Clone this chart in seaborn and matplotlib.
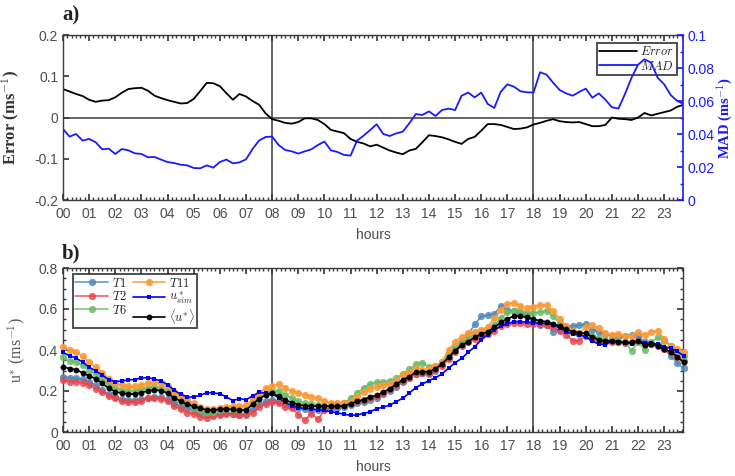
import numpy as np
import pandas as pd
import matplotlib
matplotlib.use("Agg")
import matplotlib.pyplot as plt
import seaborn as sns
from matplotlib.ticker import MultipleLocator

sns.set_theme(style="white")
plt.rcParams["font.family"] = ["Liberation Sans", "DejaVu Sans"]
plt.rcParams["mathtext.fontset"] = "cm"

# ---------------- data (15-min resolution) ----------------
hours = np.arange(96) * 0.25
hour_labels = ["00", "01", "02", "03", "04", "05", "06", "07", "08", "09", "10", "11",
               "12", "13", "14", "15", "16", "17", "18", "19", "20", "21", "22", "23"]

error = [0.069, 0.063, 0.057, 0.052, 0.043, 0.038, 0.041, 0.042,
         0.049, 0.060, 0.069, 0.071, 0.072, 0.065, 0.053, 0.047,
         0.042, 0.038, 0.034, 0.035, 0.045, 0.064, 0.084, 0.083,
         0.076, 0.059, 0.043, 0.057, 0.051, 0.040, 0.031, 0.010,
         -0.004, -0.008, -0.013, -0.015, -0.011, -0.002, -0.002, -0.006,
         -0.016, -0.030, -0.034, -0.038, -0.052, -0.059, -0.063, -0.070,
         -0.066, -0.073, -0.080, -0.085, -0.089, -0.080, -0.076, -0.060,
         -0.043, -0.045, -0.048, -0.053, -0.059, -0.064, -0.052, -0.047,
         -0.032, -0.016, -0.016, -0.018, -0.023, -0.028, -0.027, -0.024,
         -0.017, -0.013, -0.008, -0.004, -0.009, -0.011, -0.012, -0.011,
         -0.016, -0.021, -0.021, -0.018, 0.000, -0.003, -0.004, -0.006,
         0.000, 0.011, 0.005, 0.009, 0.013, 0.017, 0.026, 0.031]

mad = [0.0430, 0.0384, 0.0400, 0.0360, 0.0370, 0.0350, 0.0307, 0.0311,
       0.0279, 0.0309, 0.0301, 0.0283, 0.0279, 0.0259, 0.0261, 0.0245,
       0.0230, 0.0224, 0.0214, 0.0210, 0.0194, 0.0192, 0.0210, 0.0196,
       0.0230, 0.0245, 0.0222, 0.0228, 0.0246, 0.0309, 0.0360, 0.0382,
       0.0384, 0.0333, 0.0303, 0.0295, 0.0281, 0.0295, 0.0307, 0.0333,
       0.0354, 0.0301, 0.0291, 0.0273, 0.0269, 0.0360, 0.0390, 0.0424,
       0.0459, 0.0400, 0.0388, 0.0404, 0.0414, 0.0465, 0.0521, 0.0515,
       0.0537, 0.0509, 0.0545, 0.0554, 0.0545, 0.0632, 0.0651, 0.0622,
       0.0651, 0.0582, 0.0558, 0.0657, 0.0701, 0.0687, 0.0659, 0.0653,
       0.0651, 0.0774, 0.0760, 0.0711, 0.0667, 0.0646, 0.0632, 0.0655,
       0.0675, 0.0620, 0.0646, 0.0608, 0.0562, 0.0554, 0.0642, 0.0741,
       0.0820, 0.0853, 0.0832, 0.0741, 0.0701, 0.0636, 0.0600, 0.0582]

t1 = [0.270, 0.265, 0.262, 0.258, 0.245, 0.228, 0.205, 0.185,
      0.170, 0.160, 0.155, 0.155, 0.160, 0.168, 0.172, 0.170,
      0.160, 0.140, 0.128, 0.115, 0.105, 0.095, 0.085, 0.085,
      0.090, 0.092, 0.090, 0.085, 0.088, 0.110, 0.135, 0.150,
      0.158, 0.150, 0.135, 0.120, 0.115, 0.110, 0.105, 0.108,
      0.110, 0.115, 0.118, 0.120, 0.130, 0.140, 0.145, 0.155,
      0.165, 0.185, 0.200, 0.220, 0.245, 0.262, 0.285, 0.288,
      0.285, 0.300, 0.330, 0.365, 0.400, 0.440, 0.475, 0.525,
      0.565, 0.570, 0.575, 0.615, 0.595, 0.590, 0.580, 0.570,
      0.540, 0.522, 0.520, 0.490, 0.500, 0.512, 0.518, 0.522,
      0.525, 0.500, 0.490, 0.478, 0.470, 0.465, 0.470, 0.475,
      0.470, 0.440, 0.430, 0.420, 0.405, 0.370, 0.338, 0.310]

t2 = [0.255, 0.245, 0.245, 0.240, 0.228, 0.212, 0.195, 0.175,
      0.165, 0.150, 0.145, 0.145, 0.152, 0.165, 0.165, 0.162,
      0.150, 0.128, 0.110, 0.095, 0.090, 0.075, 0.068, 0.080,
      0.085, 0.090, 0.088, 0.085, 0.082, 0.095, 0.120, 0.138,
      0.145, 0.140, 0.120, 0.115, 0.085, 0.058, 0.090, 0.062,
      0.105, 0.125, 0.130, 0.140, 0.145, 0.150, 0.155, 0.165,
      0.175, 0.190, 0.210, 0.230, 0.250, 0.265, 0.285, 0.290,
      0.290, 0.305, 0.320, 0.355, 0.390, 0.420, 0.440, 0.455,
      0.470, 0.478, 0.495, 0.515, 0.525, 0.530, 0.530, 0.525,
      0.525, 0.525, 0.520, 0.510, 0.495, 0.475, 0.445, 0.445,
      0.470, 0.455, 0.445, 0.440, 0.440, 0.440, 0.435, 0.440,
      0.445, 0.430, 0.430, 0.425, 0.405, 0.390, 0.365, 0.345]

t6 = [0.365, 0.348, 0.340, 0.325, 0.300, 0.285, 0.262, 0.232,
      0.215, 0.205, 0.200, 0.200, 0.208, 0.215, 0.220, 0.215,
      0.200, 0.172, 0.152, 0.135, 0.118, 0.105, 0.098, 0.100,
      0.105, 0.110, 0.110, 0.108, 0.110, 0.140, 0.170, 0.190,
      0.200, 0.198, 0.182, 0.165, 0.150, 0.140, 0.135, 0.130,
      0.128, 0.130, 0.135, 0.140, 0.165, 0.190, 0.215, 0.235,
      0.242, 0.245, 0.250, 0.262, 0.285, 0.305, 0.330, 0.338,
      0.315, 0.320, 0.340, 0.385, 0.420, 0.445, 0.465, 0.478,
      0.492, 0.500, 0.520, 0.555, 0.585, 0.592, 0.590, 0.582,
      0.580, 0.585, 0.592, 0.565, 0.530, 0.505, 0.490, 0.480,
      0.480, 0.470, 0.460, 0.450, 0.450, 0.445, 0.440, 0.395,
      0.440, 0.400, 0.440, 0.462, 0.445, 0.420, 0.395, 0.370]

t11 = [0.415, 0.400, 0.390, 0.370, 0.340, 0.315, 0.290, 0.260,
       0.240, 0.228, 0.222, 0.222, 0.230, 0.238, 0.242, 0.238,
       0.222, 0.195, 0.175, 0.155, 0.140, 0.120, 0.112, 0.112,
       0.118, 0.122, 0.125, 0.125, 0.130, 0.160, 0.190, 0.215,
       0.225, 0.232, 0.215, 0.200, 0.190, 0.180, 0.172, 0.165,
       0.150, 0.140, 0.140, 0.142, 0.148, 0.175, 0.195, 0.212,
       0.220, 0.228, 0.232, 0.254, 0.278, 0.294, 0.311, 0.302,
       0.306, 0.322, 0.343, 0.400, 0.440, 0.465, 0.481, 0.489,
       0.498, 0.514, 0.554, 0.595, 0.624, 0.631, 0.615, 0.603,
       0.611, 0.620, 0.618, 0.590, 0.552, 0.515, 0.492, 0.485,
       0.510, 0.522, 0.505, 0.482, 0.475, 0.480, 0.468, 0.470,
       0.488, 0.475, 0.490, 0.492, 0.455, 0.420, 0.405, 0.392]

usim = [0.388, 0.372, 0.361, 0.341, 0.316, 0.298, 0.278, 0.255,
        0.246, 0.249, 0.254, 0.256, 0.264, 0.265, 0.258, 0.249,
        0.231, 0.204, 0.184, 0.170, 0.171, 0.179, 0.192, 0.191,
        0.186, 0.171, 0.153, 0.163, 0.157, 0.176, 0.193, 0.190,
        0.186, 0.167, 0.144, 0.128, 0.118, 0.115, 0.113, 0.108,
        0.105, 0.099, 0.093, 0.087, 0.081, 0.084, 0.090, 0.099,
        0.113, 0.122, 0.131, 0.148, 0.165, 0.190, 0.217, 0.234,
        0.251, 0.264, 0.284, 0.311, 0.338, 0.359, 0.389, 0.415,
        0.450, 0.475, 0.497, 0.517, 0.528, 0.538, 0.539, 0.535,
        0.533, 0.530, 0.530, 0.524, 0.508, 0.490, 0.477, 0.474,
        0.465, 0.444, 0.428, 0.426, 0.444, 0.438, 0.433, 0.431,
        0.444, 0.435, 0.433, 0.429, 0.416, 0.409, 0.393, 0.371]

umean = [0.319, 0.309, 0.304, 0.289, 0.273, 0.260, 0.237, 0.213,
         0.197, 0.189, 0.185, 0.185, 0.192, 0.200, 0.205, 0.202,
         0.189, 0.166, 0.150, 0.135, 0.126, 0.115, 0.108, 0.108,
         0.110, 0.112, 0.110, 0.106, 0.106, 0.136, 0.162, 0.180,
         0.190, 0.175, 0.157, 0.143, 0.134, 0.128, 0.127, 0.126,
         0.126, 0.126, 0.125, 0.127, 0.138, 0.149, 0.158, 0.171,
         0.179, 0.195, 0.211, 0.233, 0.254, 0.270, 0.293, 0.294,
         0.294, 0.309, 0.332, 0.364, 0.397, 0.423, 0.441, 0.462,
         0.478, 0.488, 0.511, 0.535, 0.551, 0.566, 0.566, 0.559,
         0.550, 0.543, 0.538, 0.528, 0.517, 0.501, 0.489, 0.485,
         0.481, 0.465, 0.449, 0.444, 0.444, 0.441, 0.437, 0.437,
         0.444, 0.424, 0.428, 0.420, 0.403, 0.392, 0.367, 0.340]

# ---------------- figure ----------------
GRAY = "#3a3a3a"
TICKGRAY = "#4d4d4d"
SERIF = ["Liberation Serif", "DejaVu Serif"]
BLUE = "#1a1aff"

fig = plt.figure(figsize=(7.35, 4.76), dpi=100)
ax1 = fig.add_axes([63 / 735, 1 - 200 / 476, 620 / 735, 165 / 476])
ax1r = ax1.twinx()
ax2 = fig.add_axes([63 / 735, 1 - 432 / 476, 620 / 735, 164 / 476])

df_top = pd.DataFrame({"hours": hours, "Error": error, "MAD": mad})
sns.lineplot(data=df_top, x="hours", y="Error", ax=ax1, color="black", lw=1.3, legend=False)
sns.lineplot(data=df_top, x="hours", y="MAD", ax=ax1r, color=BLUE, lw=1.3, legend=False)

ax1.axhline(0, color=GRAY, lw=1.1, zorder=1)
for v in (8, 18):
    ax1.axvline(v, color=GRAY, lw=1.1, zorder=1)
    ax2.axvline(v, color=GRAY, lw=1.1, zorder=1)

ax1.set_ylim(-0.2, 0.2)
ax1r.set_ylim(0, 0.1)

df_bot = pd.DataFrame({"hours": hours, "T1": t1, "T2": t2, "T6": t6, "T11": t11,
                       "usim": usim, "umean": umean})
series = [("T1", "#4f87b8", "o", 5.2, 0.85, r"$T1$"),
          ("T2", "#e8474b", "o", 5.2, 0.85, r"$T2$"),
          ("T6", "#67bb67", "o", 5.2, 0.85, r"$T6$"),
          ("T11", "#fd9833", "o", 5.2, 0.9, r"$T11$"),
          ("usim", "#0000ff", "s", 3.2, 1.0, r"$u^*_{sim}$"),
          ("umean", "black", "o", 4.2, 1.0, r"$\langle u^{*}\rangle$")]
for col, c, m, ms, a, lab in series:
    sns.lineplot(data=df_bot, x="hours", y=col, ax=ax2, color=c, marker=m, markersize=ms,
                 markeredgewidth=0, lw=1.2, alpha=a, label=lab, clip_on=False, zorder=3)
ax2.set_ylim(0, 0.8)

for ax in (ax1, ax2):
    ax.set_xlim(0, 23.72)
    ax.set_xticks(np.arange(24))
    ax.set_xticklabels(hour_labels)
    ax.xaxis.set_minor_locator(MultipleLocator(1 / 6))
    ax.tick_params(axis="x", which="both", direction="in", top=True, bottom=True,
                   colors=GRAY, labelcolor=TICKGRAY, labelsize=10, pad=5)
    ax.tick_params(axis="x", which="major", length=4)
    ax.tick_params(axis="x", which="minor", length=2)
    ax.set_xlabel("hours", color=TICKGRAY, fontsize=10)
    for s in ax.spines.values():
        s.set_color(GRAY)
        s.set_linewidth(1.0)

ax1.set_yticks([-0.2, -0.1, 0, 0.1, 0.2])
ax1.set_yticklabels(["-0.2", "-0.1", "0", "0.1", "0.2"])
ax1.tick_params(axis="y", which="both", direction="in", left=True, right=False,
                colors=GRAY, labelcolor=TICKGRAY, labelsize=10, length=4)
ax1r.set_yticks([0, 0.02, 0.04, 0.06, 0.08, 0.1])
ax1r.set_yticklabels(["0", "0.02", "0.04", "0.06", "0.08", "0.1"])
ax1r.yaxis.set_minor_locator(MultipleLocator(0.01))
ax1r.tick_params(axis="y", which="both", direction="in", colors=BLUE,
                 labelcolor=BLUE, labelsize=10)
ax1r.tick_params(axis="y", which="major", length=4)
ax1r.tick_params(axis="y", which="minor", length=2.5)
ax1r.spines["right"].set_color(BLUE)
ax1r.spines["right"].set_linewidth(1.2)
for k in ("left", "top", "bottom"):
    ax1r.spines[k].set_visible(False)
ax1.spines["right"].set_visible(False)

ax1.set_ylabel(r"Error (ms$^{-1}$)", family=SERIF, fontweight="bold", fontsize=12, color="#333333")
ax1.yaxis.set_label_coords(-0.068, 0.5)
ax1r.set_ylabel(r"MAD (ms$^{-1}$)", family=SERIF, fontweight="bold", fontsize=10.5,
                color=BLUE, rotation=90, va="top", ha="center", rotation_mode="anchor")
ax1r.yaxis.set_label_coords(1.052, 0.5)
ax2.set_ylabel(r"u$^{*}$ (ms$^{-1}$)", family=SERIF, fontsize=11.5, color="#555555")
ax2.yaxis.set_label_coords(-0.058, 0.5)
ax1.xaxis.set_label_coords(0.5, -0.172)
ax2.xaxis.set_label_coords(0.5, -0.168)

ax2.set_yticks([0, 0.2, 0.4, 0.6, 0.8])
ax2.set_yticklabels(["0", "0.2", "0.4", "0.6", "0.8"])
ax2.yaxis.set_minor_locator(MultipleLocator(0.05))
ax2.tick_params(axis="y", which="both", direction="in", left=True, right=True,
                colors=GRAY, labelcolor=TICKGRAY, labelsize=10)
ax2.tick_params(axis="y", which="major", length=4)
ax2.tick_params(axis="y", which="minor", length=2.5)

fig.text(62 / 735, 1 - 15 / 476, "a)", family=SERIF, fontweight="bold", fontsize=15,
         va="center", ha="left", color="#222222")
fig.text(62 / 735, 1 - 253 / 476, "b)", family=SERIF, fontweight="bold", fontsize=15,
         va="center", ha="left", color="#222222")

# legends
h_err = ax1.get_lines()[0]
h_mad = ax1r.get_lines()[0]
leg1 = ax1r.legend([h_err, h_mad], [r"$Error$", r"$MAD$"], loc="upper right",
                   bbox_to_anchor=(0.990, 0.952), borderaxespad=0, fontsize=9,
                   handlelength=3.0, borderpad=0.2, labelspacing=0.1, handletextpad=0.3,
                   fancybox=False, frameon=True)
leg1.get_frame().set_facecolor("none")
leg1.get_frame().set_edgecolor("#222222")
leg1.get_frame().set_linewidth(1.4)
leg1.set_zorder(0)

handles, labels = ax2.get_legend_handles_labels()
leg2 = ax2.legend(handles, labels, loc="upper left", bbox_to_anchor=(0.016, 0.963),
                  borderaxespad=0, ncol=2, fontsize=9, handlelength=2.6, borderpad=0.2,
                  labelspacing=0.05, handletextpad=0.3, columnspacing=0.5,
                  fancybox=False, frameon=True)
leg2.get_frame().set_facecolor("white")
leg2.get_frame().set_edgecolor("#222222")
leg2.get_frame().set_linewidth(1.4)

fig.savefig("out.png", dpi=100)
